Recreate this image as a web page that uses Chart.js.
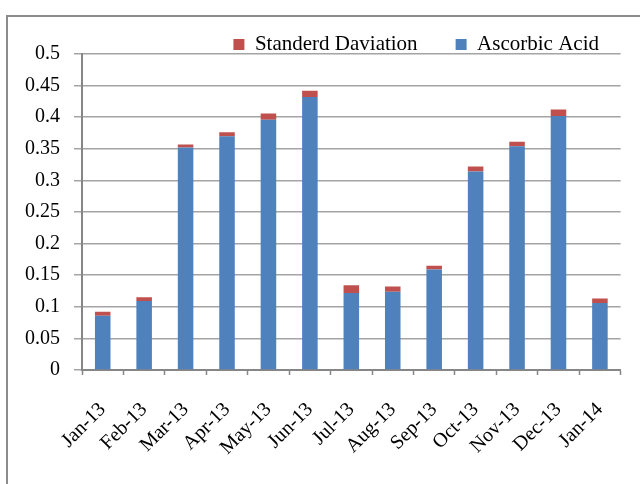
<!DOCTYPE html>
<html>
<head>
<meta charset="utf-8">
<script src="https://cdn.jsdelivr.net/npm/chart.js@4.4.1/dist/chart.umd.min.js"></script>
<style>
  html, body { margin: 0; padding: 0; background: #fff; width: 640px; height: 484px; overflow: hidden; }
  #frame { position: absolute; left: 6px; top: 15px; width: 700px; height: 600px; border: 2px solid #8c8c8c; }
  #wrap { position: absolute; left: 0; top: -4px; width: 640px; height: 488px; }
</style>
</head>
<body>
<div id="frame"></div>
<div id="wrap"><canvas id="chart" width="640" height="488"></canvas></div>
<script>
// Monthly ascorbic acid readings with their standard deviation
const months = ['Jan-13', 'Feb-13', 'Mar-13', 'Apr-13', 'May-13', 'Jun-13', 'Jul-13',
                'Aug-13', 'Sep-13', 'Oct-13', 'Nov-13', 'Dec-13', 'Jan-14'];
const ascorbicAcid = [0.086, 0.109, 0.352, 0.370, 0.396, 0.432, 0.122,
                      0.124, 0.159, 0.314, 0.354, 0.402, 0.106];
const standardDeviation = [0.006, 0.006, 0.005, 0.006, 0.010, 0.010, 0.012,
                           0.008, 0.006, 0.008, 0.007, 0.010, 0.007];
const yTickLabels = ['0', '0.05', '0.1', '0.15', '0.2', '0.25', '0.3', '0.35', '0.4', '0.45', '0.5'];

const SERIF = "'Liberation Serif', 'Times New Roman', serif";
const AXIS_GREY = '#868686';
const GRID_GREY = '#a4a4a4';

// Keep the legend strip compact so the plot starts right under it
const legendStrip = {
  id: 'legendStrip',
  beforeLayout(chart) {
    const legend = chart.legend;
    if (!legend || legend._stripPatched) return;
    const fit = legend.fit;
    legend.fit = function () {
      fit.call(this);
      this.height = 58;
    };
    legend._stripPatched = true;
  }
};

new Chart(document.getElementById('chart'), {
  type: 'bar',
  data: {
    labels: months,
    datasets: [
      {
        label: 'Ascorbic Acid',
        data: ascorbicAcid,
        backgroundColor: '#4f81bd',
        barPercentage: 0.375,
        categoryPercentage: 1.0
      },
      {
        label: 'Standerd Daviation',
        data: standardDeviation,
        backgroundColor: '#c0504d',
        barPercentage: 0.375,
        categoryPercentage: 1.0
      }
    ]
  },
  options: {
    responsive: false,
    animation: false,
    devicePixelRatio: 1,
    layout: { padding: { left: 0, right: 3, top: 0, bottom: 0 } },
    plugins: {
      legend: {
        position: 'top',
        align: 'end',
        reverse: true,
        labels: {
          boxWidth: 11,
          boxHeight: 11,
          padding: 38,
          color: '#000',
          font: { family: SERIF, size: 21 }
        }
      },
      tooltip: { enabled: false }
    },
    scales: {
      x: {
        stacked: true,
        offset: true,
        grid: {
          display: true,
          drawOnChartArea: false,
          drawTicks: true,
          tickLength: 5,
          tickColor: AXIS_GREY,
          tickWidth: 1.5,
          offset: true
        },
        border: { display: true, color: AXIS_GREY, width: 2 },
        ticks: {
          autoSkip: false,
          minRotation: 45,
          maxRotation: 45,
          padding: 23,
          color: '#000',
          font: { family: SERIF, size: 20 }
        },
        afterFit(scale) { scale.height = 114; }
      },
      y: {
        stacked: true,
        min: 0,
        max: 0.5,
        grid: {
          color: GRID_GREY,
          lineWidth: 1.5,
          drawTicks: true,
          tickLength: 8,
          tickColor: GRID_GREY
        },
        border: { display: true, color: AXIS_GREY, width: 2 },
        ticks: {
          stepSize: 0.05,
          padding: 14,
          color: '#000',
          font: { family: SERIF, size: 20 },
          callback: (value, index) => yTickLabels[index]
        },
        afterFit(scale) { scale.width = 82; }
      }
    }
  },
  plugins: [legendStrip]
});
</script>
</body>
</html>
